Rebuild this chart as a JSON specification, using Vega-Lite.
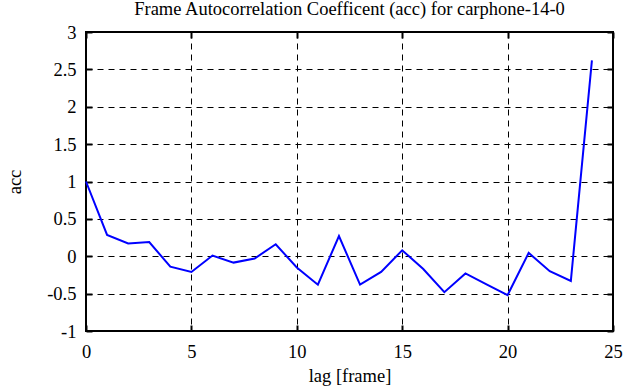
{
  "$schema": "https://vega.github.io/schema/vega-lite/v6.json",
  "autosize": "none",
  "width": 527,
  "height": 299,
  "padding": {"left": 86, "top": 32, "right": 28, "bottom": 56},
  "background": "white",
  "title": {"text": "Frame Autocorrelation Coefficent (acc) for carphone-14-0", "font": "Liberation Serif", "fontSize": 18.5, "fontWeight": "normal", "color": "black", "offset": 5},
  "config": {
    "font": "Liberation Serif",
    "view": {"stroke": "black", "strokeWidth": 2},
    "axis": {"labelFont": "Liberation Serif", "titleFont": "Liberation Serif", "labelFontSize": 18.5, "titleFontSize": 18.5, "titleFontWeight": "normal", "labelColor": "black", "titleColor": "black", "domain": false, "tickColor": "black", "tickWidth": 2, "tickSize": -6, "grid": true, "gridColor": "black", "gridDash": [6, 5], "gridWidth": 1, "gridOpacity": 1}
  },
  "data": {"values": [
    {"lag": 0, "acc": 1.0},
    {"lag": 1, "acc": 0.285},
    {"lag": 2, "acc": 0.17},
    {"lag": 3, "acc": 0.19},
    {"lag": 4, "acc": -0.14},
    {"lag": 5, "acc": -0.21},
    {"lag": 6, "acc": 0.01},
    {"lag": 7, "acc": -0.085},
    {"lag": 8, "acc": -0.03},
    {"lag": 9, "acc": 0.16},
    {"lag": 10, "acc": -0.15},
    {"lag": 11, "acc": -0.38},
    {"lag": 12, "acc": 0.27},
    {"lag": 13, "acc": -0.38},
    {"lag": 14, "acc": -0.21},
    {"lag": 15, "acc": 0.08},
    {"lag": 16, "acc": -0.17},
    {"lag": 17, "acc": -0.48},
    {"lag": 18, "acc": -0.23},
    {"lag": 19, "acc": -0.375},
    {"lag": 20, "acc": -0.52},
    {"lag": 21, "acc": 0.045},
    {"lag": 22, "acc": -0.2},
    {"lag": 23, "acc": -0.33},
    {"lag": 24, "acc": 2.62}
  ]},
  "layer": [
    {
      "mark": {"type": "line", "color": "#0000ff", "strokeWidth": 2},
      "encoding": {
        "x": {"field": "lag", "type": "quantitative", "scale": {"domain": [0, 25], "nice": false, "zero": false}, "axis": {"title": "lag [frame]", "values": [0, 5, 10, 15, 20, 25], "labelExpr": "toString(datum.value)", "labelFont": "Liberation Serif", "titleFont": "Liberation Serif", "labelPadding": 17, "titlePadding": 6, "labelFlush": false}},
        "y": {"field": "acc", "type": "quantitative", "scale": {"domain": [-1, 3], "nice": false, "zero": false}, "axis": {"title": "acc", "values": [-1, -0.5, 0, 0.5, 1, 1.5, 2, 2.5, 3], "labelExpr": "toString(datum.value)", "labelFont": "Liberation Serif", "titleFont": "Liberation Serif", "labelPadding": 16, "titlePadding": 22, "labelFlush": false}}
      }
    },
    {
      "mark": {"type": "line", "opacity": 0},
      "encoding": {
        "x": {"field": "lag", "type": "quantitative", "scale": {"domain": [0, 25], "nice": false, "zero": false}, "axis": {"orient": "top", "title": null, "labels": false, "grid": false, "values": [0, 5, 10, 15, 20, 25]}},
        "y": {"field": "acc", "type": "quantitative", "scale": {"domain": [-1, 3], "nice": false, "zero": false}, "axis": {"orient": "right", "title": null, "labels": false, "grid": false, "values": [-1, -0.5, 0, 0.5, 1, 1.5, 2, 2.5, 3]}}
      }
    }
  ],
  "resolve": {"axis": {"x": "independent", "y": "independent"}}
}
